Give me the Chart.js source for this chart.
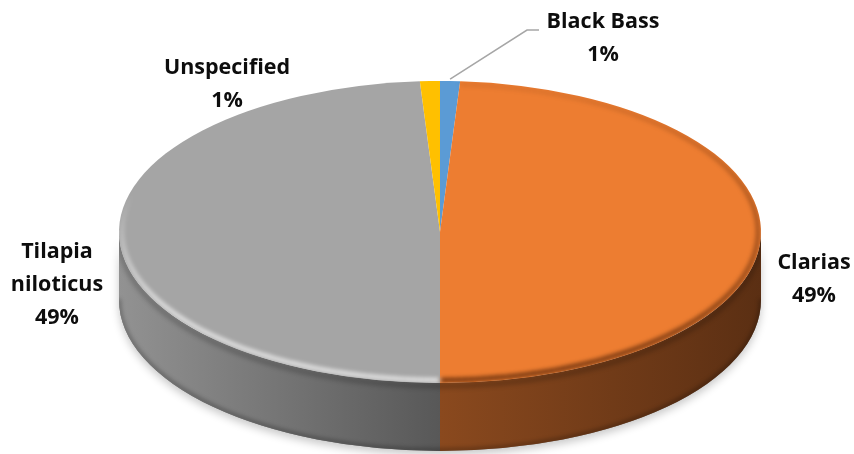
<!DOCTYPE html>
<html>
<head>
<meta charset="utf-8">
<script src="https://cdn.jsdelivr.net/npm/chart.js@4.4.1/dist/chart.umd.min.js"></script>
<style>
  html, body { margin: 0; padding: 0; background: #fff; }
  canvas { display: block; }
</style>
</head>
<body>
<canvas id="fishChart" width="854" height="454"></canvas>
<script>
// Species share of the catch
const species = ['Black Bass', 'Clarias', ['Tilapia', 'niloticus'], 'Unspecified'];
const shares = [1, 49, 49, 1];

const topColors = ['#5b9bd5', '#ed7d31', '#a5a5a5', '#ffc000'];
// side wall shading: [colour at the front middle, colour at the outer edge]
const wallColors = [
    ['#36618a', '#2a4c6c'],
    ['#8a491e', '#5b2f13'],
    ['#585858', '#929292'],
    ['#a07a00', '#7a5d00']
];
// rim line on the top face: light catches the grey side, the orange side sits in shade
const rimColors = [null, 'rgba(70,28,4,0.75)', 'rgba(255,255,255,0.7)', null];

// where the flattened pie sits on the canvas
const disc = { cx: 440, cy: 232, rx: 321, ry: 151, depth: 68 };

// label anchors (centre of first line) and the leader line elbow for the tiny slice
const labelSpots = [
    { x: 603, y: 22, elbow: [527, 30, 539, 30] },
    { x: 814, y: 263 },
    { x: 57, y: 252 },
    { x: 227, y: 68 }
];
const lineGap = 33;

function frontRange(start, end) {
    // part of a slice that faces the viewer (canvas angles 0..PI)
    for (const shift of [0, 2 * Math.PI, -2 * Math.PI]) {
        const a = Math.max(start + shift, 0);
        const b = Math.min(end + shift, Math.PI);
        if (b > a) return [a, b];
    }
    return null;
}

function sliceAt(arcs, angle) {
    for (let i = 0; i < arcs.length; i++) {
        for (const shift of [0, 2 * Math.PI, -2 * Math.PI]) {
            const t = angle + shift;
            if (t >= arcs[i].startAngle && t < arcs[i].endAngle) return i;
        }
    }
    return -1;
}

const pie3d = {
    id: 'pie3d',
    beforeDatasetsDraw(chart) {
        const ctx = chart.ctx;
        const arcs = chart.getDatasetMeta(0).data;
        const { cx, cy, rx, ry, depth } = disc;

        // soft shadow under the whole disc
        ctx.save();
        ctx.shadowColor = 'rgba(0,0,0,0.22)';
        ctx.shadowBlur = 8;
        ctx.shadowOffsetY = 4;
        ctx.fillStyle = '#777';
        ctx.beginPath();
        ctx.ellipse(cx, cy + depth, rx, ry, 0, 0, Math.PI);
        ctx.lineTo(cx - rx, cy);
        ctx.ellipse(cx, cy, rx, ry, 0, Math.PI, 0, true);
        ctx.closePath();
        ctx.fill();
        ctx.restore();

        // side walls
        arcs.forEach((arc, i) => {
            const range = frontRange(arc.startAngle, arc.endAngle);
            if (!range) return;
            const [a, b] = range;
            const xa = cx + rx * Math.cos(a);
            const xb = cx + rx * Math.cos(b);
            const grad = ctx.createLinearGradient(cx, 0, (xa + xb) / 2 < cx ? cx - rx : cx + rx, 0);
            grad.addColorStop(0, wallColors[i][0]);
            grad.addColorStop(1, wallColors[i][1]);
            ctx.save();
            ctx.fillStyle = grad;
            ctx.beginPath();
            ctx.ellipse(cx, cy, rx, ry, 0, a, b);
            ctx.lineTo(cx + rx * Math.cos(b), cy + depth + ry * Math.sin(b));
            ctx.ellipse(cx, cy + depth, rx, ry, 0, b, a, true);
            ctx.closePath();
            ctx.fill();
            ctx.restore();
        });

        // shade just under the top edge and a dark seam along the bottom edge
        ctx.save();
        ctx.beginPath();
        ctx.ellipse(cx, cy + depth, rx, ry, 0, 0, Math.PI);
        ctx.lineTo(cx - rx, cy);
        ctx.ellipse(cx, cy, rx, ry, 0, Math.PI, 0, true);
        ctx.closePath();
        ctx.clip();
        ctx.filter = 'blur(2px)';
        ctx.strokeStyle = 'rgba(0,0,0,0.18)';
        ctx.lineWidth = 6;
        ctx.beginPath();
        ctx.ellipse(cx, cy + 3, rx, ry, 0, 0, Math.PI);
        ctx.stroke();
        ctx.strokeStyle = 'rgba(0,0,0,0.35)';
        ctx.lineWidth = 3;
        ctx.beginPath();
        ctx.ellipse(cx, cy + depth - 1, rx, ry, 0, 0, Math.PI);
        ctx.stroke();
        ctx.restore();

        // squash the library's round pie into the top ellipse
        const { x, y, outerRadius } = arcs[0];
        ctx.save();
        ctx.translate(cx, cy);
        ctx.scale(rx / outerRadius, ry / outerRadius);
        ctx.translate(-x, -y);
    },
    afterDatasetsDraw(chart) {
        const ctx = chart.ctx;
        ctx.restore();
        const arcs = chart.getDatasetMeta(0).data;
        const { cx, cy, rx, ry } = disc;

        // bevel line along the rim of the top face, faded out towards the back
        const off = document.createElement('canvas');
        off.width = chart.width;
        off.height = chart.height;
        const oc = off.getContext('2d');
        oc.lineWidth = 4;
        const step = 0.02;
        for (let t = -Math.PI / 2; t < 1.5 * Math.PI; t += step) {
            const i = sliceAt(arcs, t + step / 2);
            if (i < 0 || !rimColors[i]) continue;
            const s = Math.sin(t);
            const weight = i === 1 ? Math.min(1, 0.55 + 0.45 * s) : Math.max(0, Math.min(1, (s + 0.25) / 0.8));
            if (weight <= 0) continue;
            oc.globalAlpha = weight;
            oc.strokeStyle = rimColors[i];
            oc.beginPath();
            oc.ellipse(cx, cy, rx - 3, ry - 3, 0, t, t + step + 0.005);
            oc.stroke();
        }
        ctx.save();
        ctx.beginPath();
        ctx.ellipse(cx, cy, rx, ry, 0, 0, 2 * Math.PI);
        ctx.clip();
        ctx.filter = 'blur(2px)';
        ctx.drawImage(off, 0, 0);
        ctx.restore();
    },
    afterDraw(chart) {
        const ctx = chart.ctx;
        const arcs = chart.getDatasetMeta(0).data;
        const { cx, cy, rx, ry } = disc;

        ctx.save();
        ctx.fillStyle = '#0d0d0d';
        ctx.font = 'bold 21.5px "Open Sans", sans-serif';
        ctx.textAlign = 'center';
        ctx.textBaseline = 'middle';
        species.forEach((name, i) => {
            const spot = labelSpots[i];
            const lines = [].concat(name, shares[i] + '%');
            lines.forEach((txt, k) => ctx.fillText(txt, spot.x, spot.y + k * lineGap));

            if (spot.elbow) {
                const arc = arcs[i];
                const mid = (arc.startAngle + arc.endAngle) / 2;
                ctx.strokeStyle = '#a6a6a6';
                ctx.lineWidth = 1.5;
                ctx.beginPath();
                ctx.moveTo(cx + rx * Math.cos(mid), cy + ry * Math.sin(mid) - 2);
                ctx.lineTo(spot.elbow[0], spot.elbow[1]);
                ctx.lineTo(spot.elbow[2], spot.elbow[3]);
                ctx.stroke();
            }
        });
        ctx.restore();
    }
};

new Chart(document.getElementById('fishChart'), {
    type: 'pie',
    data: {
        labels: species,
        datasets: [{
            data: shares,
            backgroundColor: topColors,
            borderWidth: 0
        }]
    },
    options: {
        responsive: false,
        animation: false,
        devicePixelRatio: 1,
        plugins: {
            legend: { display: false },
            tooltip: { enabled: false }
        }
    },
    plugins: [pie3d]
});
</script>
</body>
</html>
